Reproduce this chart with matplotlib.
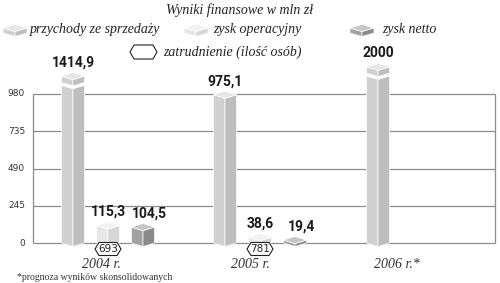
import matplotlib
matplotlib.use("Agg")
import matplotlib.pyplot as plt
from matplotlib.patches import Polygon

# ---------------------------data--------------------------------------------
years = ["2004 r.", "2005 r.", "2006 r.*"]
revenue = [1414.9, 975.1, 2000]          # przychody ze sprzedazy
op_profit = [115.3, 38.6, None]          # zysk operacyjny
net_profit = [104.5, 19.4, None]         # zysk netto
employees = [693, 781, None]             # zatrudnienie
yticks = [0, 245, 490, 735, 980]

# ---------------------------layout (pixels of the 500x283 picture)-----------
PPU = 149 / 980          # pixels per unit
Y0 = 243                 # pixel row of value 0
group_x = [108, 260, 378]
bar_step = 35
year_x = [101, 250, 397]
half_w = 11.5
diam = 3.6 / PPU         # half height of the top diamond, in units
CAP, K = 1060, 0.105     # broken axis for the tall bars
label_dx = {"rev": 0, "op": 0, "net": 6}

colors = {
    "rev": ("#d0d0d0", "#bebebe", "#e6e6e6"),
    "op": ("#e6e6e6", "#d6d6d6", "#f2f2f2"),
    "net": ("#a2a2a2", "#8a8a8a", "#c6c6c6"),
}
serif = "Liberation Serif"


def v(py):
    # pixel row -> value
    return (Y0 - py) / PPU


def shown(val):
    return val if val <= CAP else CAP + (val - CAP) * K


def prism(ax, x, h, col, w=half_w, d=diam, base=0, z=3):
    left, right, top = col
    ax.add_patch(Polygon([(x - w, h), (x, h - d), (x, base - d), (x - w, base)],
                         closed=True, fc=left, ec="white", lw=0.5, zorder=z))
    ax.add_patch(Polygon([(x, h - d), (x + w, h), (x + w, base), (x, base - d)],
                         closed=True, fc=right, ec="white", lw=0.5, zorder=z))
    ax.add_patch(Polygon([(x - w, h), (x, h + d), (x + w, h), (x, h - d)],
                         closed=True, fc=top, ec="white", lw=0.5, zorder=z))


def hexagon(ax, x, y, text, w=13, h=6.5):
    hu = h / PPU
    pts = [(x - w, y), (x - w + 4, y + hu), (x + w - 4, y + hu),
           (x + w, y), (x + w - 4, y - hu), (x - w + 4, y - hu)]
    ax.add_patch(Polygon(pts, closed=True, fc="white", ec="#222222", lw=0.8, zorder=5))
    if text:
        ax.text(x, y, text, ha="center", va="center", fontsize=7.5,
                family="DejaVu Sans", color="#222222", zorder=6)


def fmt(val):
    if float(val).is_integer():
        return str(int(val))
    return f"{val:.1f}".replace(".", ",")


fig = plt.figure(figsize=(5, 2.83), dpi=100)
ax = fig.add_axes([0, 0, 1, 1])
ax.set_xlim(0, 500)
ax.set_ylim(v(283), v(0))
ax.axis("off")

# grid
ax.hlines(yticks, 33, 495, color="#8c8c8c", lw=0.9, zorder=1)
ax.vlines([33, 495], 0, yticks[-1], color="#8c8c8c", lw=0.9, zorder=1)
for t in yticks:
    ax.text(25, t, str(t), ha="right", va="center", fontsize=6.5,
            family="DejaVu Sans", color="#333333")

# bars
for i, gx in enumerate(group_x):
    series = [("rev", revenue[i]), ("op", op_profit[i]), ("net", net_profit[i])]
    series = [s for s in series if s[1] is not None]
    n = len(series)
    for j, (key, val) in enumerate(series):
        x = gx + (j - (n - 1) / 2) * bar_step
        h = shown(val)
        prism(ax, x, h, colors[key])
        if val > CAP:
            # white zig-zag cut of the broken bar
            yb = h - diam - 4 / PPU
            ax.plot([x - half_w - 0.5, x, x + half_w + 0.5], [yb, yb - diam, yb],
                    color="white", lw=2.5, zorder=4, solid_capstyle="butt")
        ax.text(x + label_dx[key], h + diam + 3 / PPU, fmt(val), ha="center", va="bottom",
                fontsize=10, family="Roboto", weight="bold", color="#1a1a1a", zorder=6)
    if employees[i] is not None:
        hexagon(ax, gx, v(249), str(employees[i]))
    ax.text(year_x[i], v(264), years[i], ha="center", va="center", fontsize=10,
            family=serif, style="italic", color="#333333")

# title and legend
ax.text(240, v(10), "Wyniki finansowe w mln zł", ha="center", va="center",
        fontsize=10, family=serif, style="italic", color="#222222")
legend = [("rev", 15, 30, "przychody ze sprzedaży"),
          ("op", 196, 213, "zysk operacyjny"),
          ("net", 362, 382, "zysk netto")]
for key, ix, tx, label in legend:
    prism(ax, ix, v(28), colors[key], w=12, d=3.5 / PPU, base=v(33))
    ax.text(tx, v(30), label, ha="left", va="center", fontsize=10,
            family=serif, style="italic", color="#222222")
hexagon(ax, 143.5, v(52), "", w=13.5, h=7)
ax.text(163, v(52), "zatrudnienie (ilość osób)", ha="left", va="center",
        fontsize=10, family=serif, style="italic", color="#222222")

ax.text(17, v(277), "*prognoza wyników skonsolidowanych", ha="left", va="center",
        fontsize=7, family=serif, color="#333333")

fig.savefig("out.png", dpi=100)
